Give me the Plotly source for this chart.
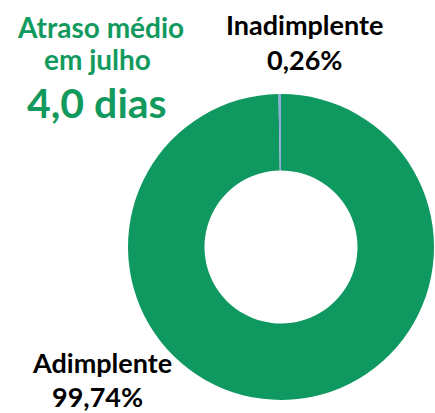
import plotly.graph_objects as go

labels = ["Adimplente", "Inadimplente"]
values = [99.74, 0.26]
value_text = ["99,74%", "0,26%"]
colors = ["#0F9960", "#8FAADC"]
title_lines = ["Atraso médio", "em julho"]
big_value = "4,0 dias"

W, H = 435, 413
fig = go.Figure(go.Pie(
    labels=labels, values=values, hole=0.5, sort=False,
    direction="clockwise", rotation=0,
    marker=dict(colors=colors, line=dict(width=0)),
    textinfo="none", showlegend=False,
    domain=dict(x=[128/W, 434/W], y=[1-400/H, 1-94/H]),
))

def ann(text, x, y, size, color):
    fig.add_annotation(text=text, x=x/W, y=1-y/H, xref="paper", yref="paper",
                       showarrow=False, xanchor="center", yanchor="middle",
                       borderpad=0,
                       font=dict(family="Lato", size=size, color=color, weight=700))

green = "#129A5E"
ann(title_lines[0], 100, 27, 28, green)
ann(title_lines[1], 97, 59, 28, green)
ann(big_value, 97, 102, 41, green)
ann(labels[1], 304, 25, 27, "#000000")
ann(value_text[1], 304, 60, 27, "#000000")
ann(labels[0], 102, 362, 27, "#000000")
ann(value_text[0], 97, 396, 27, "#000000")

fig.update_layout(width=W, height=H, margin=dict(l=0, r=0, t=0, b=0),
                  paper_bgcolor="white", plot_bgcolor="white")
fig.write_html("out.html", config={"displayModeBar": False},
               post_script="document.body.style.margin='0';document.body.style.overflow='hidden';")
